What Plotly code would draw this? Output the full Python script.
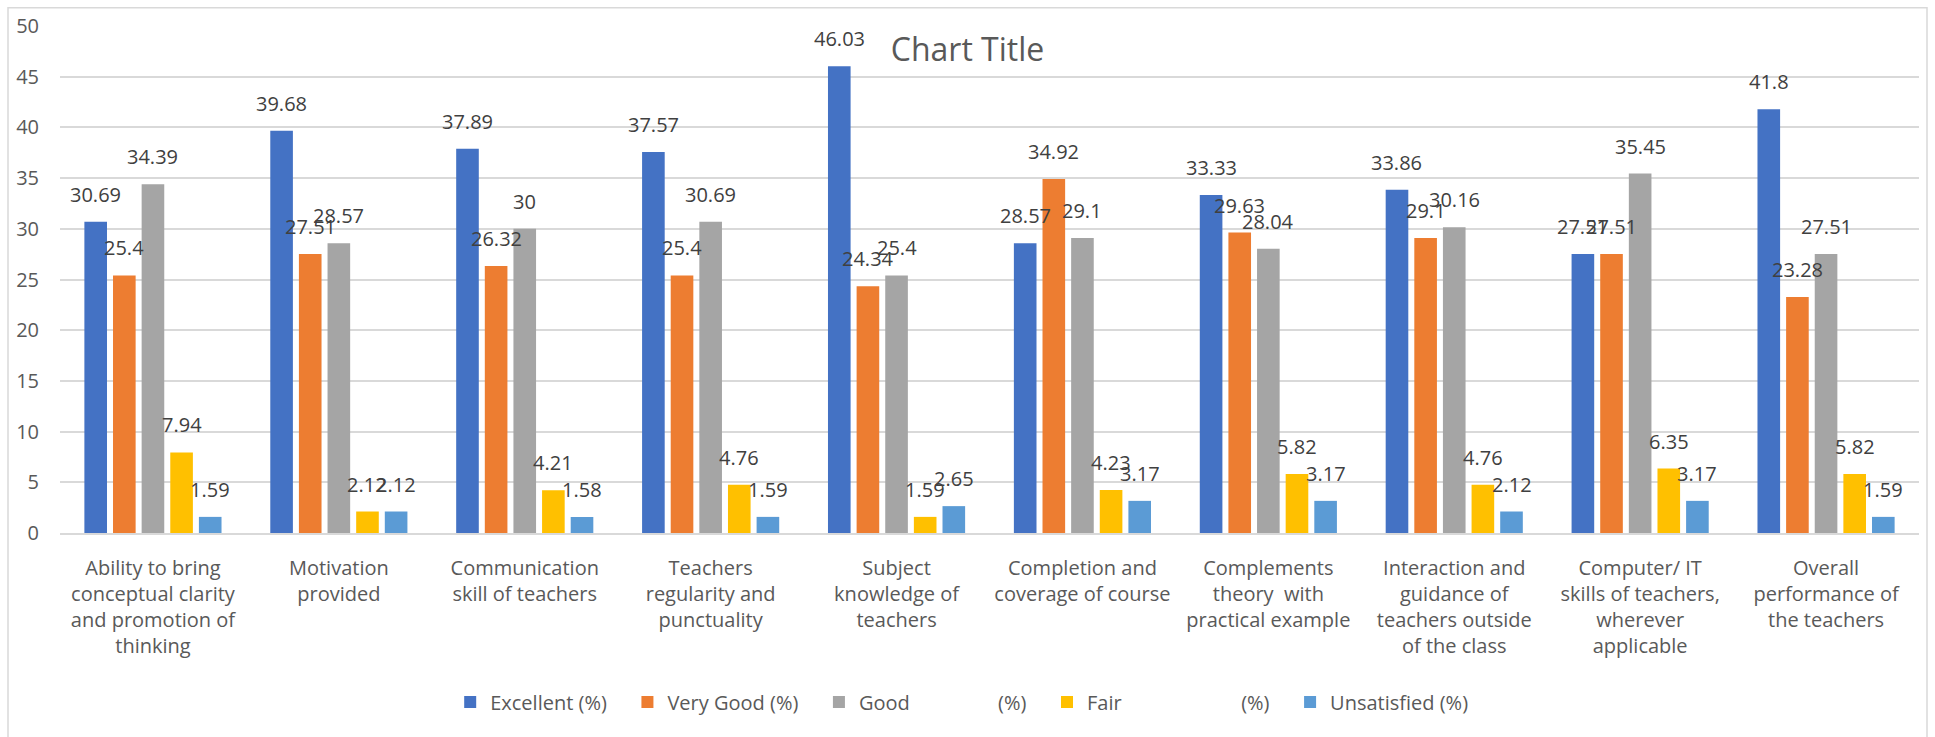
import plotly.graph_objects as go

# Survey categories (line breaks as shown on the axis)
categories = [
    "Ability to bring<br>conceptual clarity<br>and promotion of<br>thinking",
    "Motivation<br>provided",
    "Communication<br>skill of teachers",
    "Teachers<br>regularity and<br>punctuality",
    "Subject<br>knowledge of<br>teachers",
    "Completion and<br>coverage of course",
    "Complements<br>theory\u00a0\u00a0with<br>practical example",
    "Interaction and<br>guidance of<br>teachers outside<br>of the class",
    "Computer/ IT<br>skills of teachers,<br>wherever<br>applicable",
    "Overall<br>performance of<br>the teachers",
]

excellent = [30.69, 39.68, 37.89, 37.57, 46.03, 28.57, 33.33, 33.86, 27.51, 41.8]
very_good = [25.4, 27.51, 26.32, 25.4, 24.34, 34.92, 29.63, 29.1, 27.51, 23.28]
good = [34.39, 28.57, 30, 30.69, 25.4, 29.1, 28.04, 30.16, 35.45, 27.51]
fair = [7.94, 2.12, 4.21, 4.76, 1.59, 4.23, 5.82, 4.76, 6.35, 5.82]
unsatisfied = [1.59, 2.12, 1.58, 1.59, 2.65, 3.17, 3.17, 2.12, 3.17, 1.59]

NB = "\u00a0"
series_names = [
    "Excellent (%)",
    "Very Good (%)",
    "Good" + NB * 17 + "(%)",
    "Fair" + NB * 23 + "(%)",
    "Unsatisfied (%)",
]
series_values = [excellent, very_good, good, fair, unsatisfied]
colors = ["#4472C4", "#ED7D31", "#A5A5A5", "#FFC000", "#5B9BD5"]

FONT = "Open Sans"
BARGAP = 0.23
BARGROUPGAP = 0.21

fig = go.Figure()
for i, (name, vals, col) in enumerate(zip(series_names, series_values, colors)):
    fig.add_trace(go.Bar(
        x=categories, y=vals, name=name + (NB * 3 if i < 4 else ""),
        marker=dict(color=col, line=dict(width=0)),
    ))

# value labels above each bar, placed at the bar's slot within its group
n = len(series_values)
slot = (1 - BARGAP) / n
annotations = []
for i, vals in enumerate(series_values):
    off = (i - (n - 1) / 2) * slot
    for j, v in enumerate(vals):
        annotations.append(dict(
            x=j + off, y=v, xref="x", yref="y", text=f"{v:g}",
            showarrow=False, yanchor="bottom", xanchor="center", yshift=12,
            font=dict(family=FONT, size=20, color="#404040"),
        ))

fig.update_layout(
    width=1935, height=737,
    margin=dict(l=60, r=16, t=24, b=204),
    paper_bgcolor="white", plot_bgcolor="white",
    barmode="group", bargap=BARGAP, bargroupgap=BARGROUPGAP,
    font=dict(family=FONT, size=20, color="#595959"),
    title=dict(text="Chart Title", x=0.5, xref="container", xanchor="center",
               y=1 - 50 / 737, yref="container", yanchor="middle",
               font=dict(family=FONT, size=32, color="#595959")),
    xaxis=dict(type="category", showgrid=False, showline=True, linecolor="#d9d9d9",
               linewidth=2, ticks="", tickangle=0, ticklabelstandoff=16,
               tickfont=dict(family=FONT, size=20, color="#595959")),
    yaxis=dict(range=[0, 50], dtick=5, showgrid=True, gridcolor="#d9d9d9", gridwidth=2,
               zeroline=False, showline=False, ticks="", ticklabelstandoff=20,
               tickfont=dict(family=FONT, size=20, color="#595959")),
    legend=dict(orientation="h", xref="container", yref="container", x=0.497, y=1 - 702 / 737,
                xanchor="center", yanchor="middle",
                font=dict(family=FONT, size=20, color="#595959")),
    annotations=annotations,
    shapes=[dict(type="rect", xref="paper", yref="paper",
                 x0=(8 - 60) / 1859, x1=(1927 - 60) / 1859,
                 y0=-0.42, y1=(533.3 - 6) / 509,
                 line=dict(color="#d9d9d9", width=1.5), layer="below")],
)

fig.write_html("out.html")
